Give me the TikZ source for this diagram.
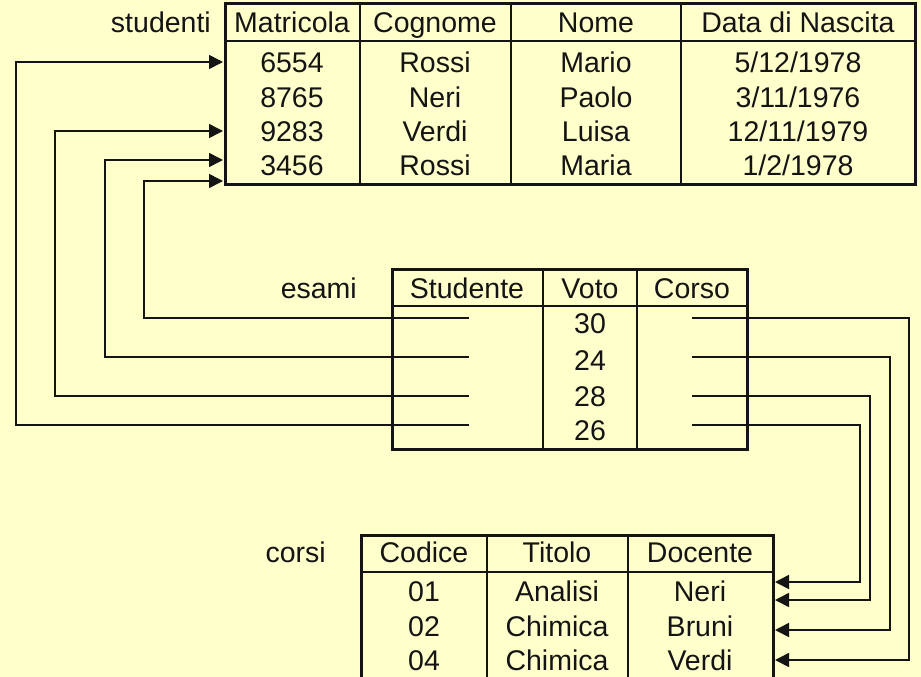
\documentclass[tikz,border=0pt]{standalone}
\usepackage{fontspec}
\setmainfont{Liberation Sans}
\usetikzlibrary{arrows.meta}
\definecolor{bg}{RGB}{255,255,204}
\definecolor{ink}{RGB}{20,20,20}
\begin{document}
\begin{tikzpicture}[x=1pt,y=-1pt,
  cell/.style={font=\fontsize{28.5}{30}\selectfont, inner sep=0pt, anchor=center,
               text height=20.4pt, text depth=0pt, text=ink},
  lbl/.style={cell, anchor=east},
  tbl/.style={line width=3pt, draw=ink},
  sepv/.style={line width=2.5pt, draw=ink},
  seph/.style={line width=1.6pt, draw=ink},
  conn/.style={line width=1.6pt, draw=ink},
  arr/.style={conn, -{Triangle[length=14pt,width=14pt]}},
]
\useasboundingbox (0,0) rectangle (921,677);
\fill[bg] (0,0) rectangle (921,677);
\clip (0,0) rectangle (921,677);

% ---------------- studenti ----------------
\node[lbl] (studL) at (211,22) {studenti};
\draw[seph] (225,41) -- (915,41);
\draw[sepv] (360,4) -- (360,184);
\draw[sepv] (511,4) -- (511,184);
\draw[sepv] (681,4) -- (681,184);
\draw[tbl] (225,4) rectangle (915,184);

\node[cell] (sH1) at (292,22) {Matricola};
\node[cell] (sH2) at (435,22) {Cognome};
\node[cell] (sH3) at (596,22) {Nome};
\node[cell] (sH4) at (798,22) {Data di Nascita};

\node[cell] (s11) at (292,62) {6554};
\node[cell] (s12) at (435,62) {Rossi};
\node[cell] (s13) at (596,62) {Mario};
\node[cell] (s14) at (798,62) {5/12/1978};
\node[cell] (s21) at (292,97) {8765};
\node[cell] (s22) at (435,97) {Neri};
\node[cell] (s23) at (596,97) {Paolo};
\node[cell] (s24) at (798,97) {3/11/1976};
\node[cell] (s31) at (292,131) {9283};
\node[cell] (s32) at (435,131) {Verdi};
\node[cell] (s33) at (596,131) {Luisa};
\node[cell] (s34) at (798,131) {12/11/1979};
\node[cell] (s41) at (292,165) {3456};
\node[cell] (s42) at (435,165) {Rossi};
\node[cell] (s43) at (596,165) {Maria};
\node[cell] (s44) at (798,165) {1/2/1978};

% ---------------- esami ----------------
\node[lbl] (esaL) at (357,288) {esami};
\draw[seph] (392,306) -- (747,306);
\draw[sepv] (543,269) -- (543,449);
\draw[sepv] (637,269) -- (637,449);
\draw[tbl] (392,269) rectangle (747,449);

\node[cell] (eH1) at (467,288) {Studente};
\node[cell] (eH2) at (590,288) {Voto};
\node[cell] (eH3) at (692,288) {Corso};
\node[cell] (e12) at (590,323) {30};
\node[cell] (e22) at (590,360) {24};
\node[cell] (e32) at (590,396) {28};
\node[cell] (e42) at (590,430) {26};

% ---------------- corsi ----------------
\node[lbl] (corL) at (326,552) {corsi};
\draw[seph] (361,572) -- (773,572);
\draw[sepv] (487,535) -- (487,700);
\draw[sepv] (628,535) -- (628,700);
\draw[tbl] (361,535) rectangle (773,700);

\node[cell] (cH1) at (424,552) {Codice};
\node[cell] (cH2) at (557,552) {Titolo};
\node[cell] (cH3) at (700,552) {Docente};
\node[cell] (c11) at (424,591) {01};
\node[cell] (c12) at (557,591) {Analisi};
\node[cell] (c13) at (700,591) {Neri};
\node[cell] (c21) at (424,626) {02};
\node[cell] (c22) at (557,626) {Chimica};
\node[cell] (c23) at (700,626) {Bruni};
\node[cell] (c31) at (424,660) {04};
\node[cell] (c32) at (557,660) {Chimica};
\node[cell] (c33) at (700,660) {Verdi};

% ---------------- connector endpoints ----------------
\coordinate (eS1) at (469,318);
\coordinate (eS2) at (469,357);
\coordinate (eS3) at (469,396);
\coordinate (eS4) at (469,425);
\coordinate (eC1) at (692,318);
\coordinate (eC2) at (692,357);
\coordinate (eC3) at (692,396);
\coordinate (eC4) at (692,425);

\coordinate (sT1) at (223,62);
\coordinate (sT3) at (223,131);
\coordinate (sT4a) at (223,160);
\coordinate (sT4b) at (223,181);

\coordinate (cT1a) at (775,582);
\coordinate (cT1b) at (775,600);
\coordinate (cT2) at (775,630);
\coordinate (cT3) at (775,660);

% ---------------- connectors ----------------
\draw[arr] (eS1) -- (144,318) |- (sT4b);
\draw[arr] (eS2) -- (105,357) |- (sT4a);
\draw[arr] (eS3) -- (55,396) |- (sT3);
\draw[arr] (eS4) -- (16,425) |- (sT1);

\draw[arr] (eC1) -- (909,318) |- (cT3);
\draw[arr] (eC2) -- (890,357) |- (cT2);
\draw[arr] (eC3) -- (870,396) |- (cT1b);
\draw[arr] (eC4) -- (860,425) |- (cT1a);
\end{tikzpicture}
\end{document}
